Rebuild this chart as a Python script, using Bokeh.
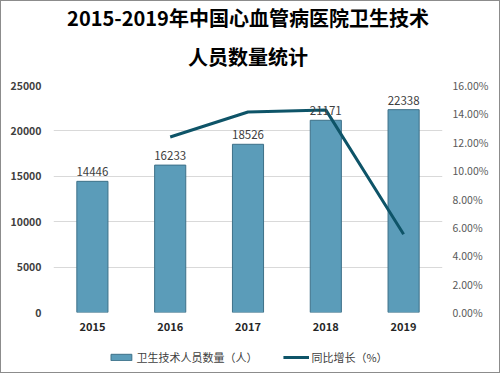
from bokeh.plotting import figure
from bokeh.layouts import column
from bokeh.models import (ColumnDataSource, LinearAxis, Range1d, NumeralTickFormatter,
                          Title, Legend, LegendItem, FactorRange, LabelSet)
from bokeh.core.properties import value
from bokeh.embed import file_html
from bokeh.resources import INLINE

years = ["2015", "2016", "2017", "2018", "2019"]
staff = [14446, 16233, 18526, 21171, 22338]
growth_years = ["2016", "2017", "2018", "2019"]
growth = [0.1237, 0.1413, 0.1428, 0.0551]
title1 = "2015-2019年中国心血管病医院卫生技术"
title2 = "人员数量统计"
bar_label = "卫生技术人员数量（人）"
line_label = "同比增长（%）"

FONT = "Noto Sans CJK SC"
BAR_FILL = "#5b9cb9"
BAR_LINE = "#3d7088"
LINE_COLOR = "#0e5468"

fig = figure(width=498, height=341, x_range=FactorRange(*years),
             y_range=Range1d(0, 25000), output_backend="svg", toolbar_location=None,
             min_border_left=52, min_border_right=57, min_border_top=84, min_border_bottom=30)
fig.outline_line_color = None
fig.background_fill_color = "white"

fig.extra_y_ranges = {"pct": Range1d(0, 0.16)}

src = ColumnDataSource(dict(x=years, y=staff, lbl=[str(v) for v in staff]))
bars = fig.vbar(x="x", top="y", width=0.4, source=src, fill_color=BAR_FILL,
                line_color=BAR_LINE, line_width=1)
labels = LabelSet(x="x", y="y", text="lbl", source=src, text_align="center",
                  y_offset=5, text_font_size=value("11.5px"), text_color="#404040",
                  text_font=value(FONT))
fig.add_layout(labels)

line = fig.line(x=growth_years, y=growth, y_range_name="pct", line_color=LINE_COLOR, line_width=3)

# axes
fig.yaxis.ticker = [0, 5000, 10000, 15000, 20000, 25000]
fig.yaxis.axis_line_color = None
fig.yaxis.major_tick_line_color = None
fig.yaxis.major_tick_out = 0
fig.yaxis.major_tick_in = 0
fig.yaxis.minor_tick_line_color = None
fig.yaxis.major_label_text_font = FONT
fig.yaxis.major_label_text_font_style = "bold"
fig.yaxis.major_label_text_font_size = "10.5px"
fig.yaxis.major_label_text_color = "#404040"
fig.yaxis.major_label_standoff = 12

r_axis = LinearAxis(y_range_name="pct", ticker=[0, 0.02, 0.04, 0.06, 0.08, 0.10, 0.12, 0.14, 0.16],
                    formatter=NumeralTickFormatter(format="0.00%"))
r_axis.axis_line_color = None
r_axis.major_tick_line_color = None
r_axis.major_tick_out = 0
r_axis.major_tick_in = 0
r_axis.minor_tick_line_color = None
r_axis.major_label_text_font = FONT
r_axis.major_label_text_font_size = "10.5px"
r_axis.major_label_text_color = "#595959"
r_axis.major_label_standoff = 10
fig.add_layout(r_axis, "right")

fig.xaxis.axis_line_color = None
fig.xaxis.major_tick_line_color = None
fig.xaxis.major_tick_out = 0
fig.xaxis.major_tick_in = 0
fig.xaxis.major_label_text_font = FONT
fig.xaxis.major_label_text_font_style = "bold"
fig.xaxis.major_label_text_font_size = "11px"
fig.xaxis.major_label_text_color = "#262626"
fig.xaxis.major_label_standoff = 9

fig.xgrid.grid_line_color = None
fig.ygrid.grid_line_color = "#d9d9d9"
fig.ygrid.ticker = [0, 5000, 10000, 15000, 20000, 25000]

fig.add_layout(Title(text=title2, align="center", text_font=FONT, text_font_size="20px",
                     text_color="#000000", text_font_style="bold", standoff=29), "above")
fig.add_layout(Title(text=title1, align="center", text_font=FONT, text_font_size="20px",
                     text_color="#000000", text_font_style="bold", standoff=-13), "above")

# separate strip for the legend (below the chart); its placeholder glyphs lie outside the view
leg = figure(width=498, height=30, output_backend="svg", toolbar_location=None,
             x_axis_type=None, y_axis_type=None, min_border=0,
             x_range=Range1d(0, 1), y_range=Range1d(0, 1))
leg.outline_line_color = None
leg.xgrid.grid_line_color = None
leg.ygrid.grid_line_color = None
lb = leg.vbar(x=[-5], top=[-5], bottom=[-6], width=0.4, fill_color=BAR_FILL,
              line_color=BAR_LINE, line_width=1)
ll = leg.line(x=[-5, -4], y=[-5, -5], line_color=LINE_COLOR, line_width=3)
legend = Legend(items=[LegendItem(label=bar_label, renderers=[lb]),
                       LegendItem(label=line_label, renderers=[ll])],
                orientation="horizontal", location="center",
                label_text_font=FONT, label_text_font_size="11px", label_text_color="#404040",
                glyph_width=26, glyph_height=8, spacing=25, border_line_color=None,
                background_fill_alpha=0, padding=2, margin=0, label_standoff=3)
leg.add_layout(legend, "center")

p = column(fig, leg, spacing=0)
p.styles = {"border": "1px solid #8c8c8c"}

open("out.html", "w").write(file_html(p, INLINE))
